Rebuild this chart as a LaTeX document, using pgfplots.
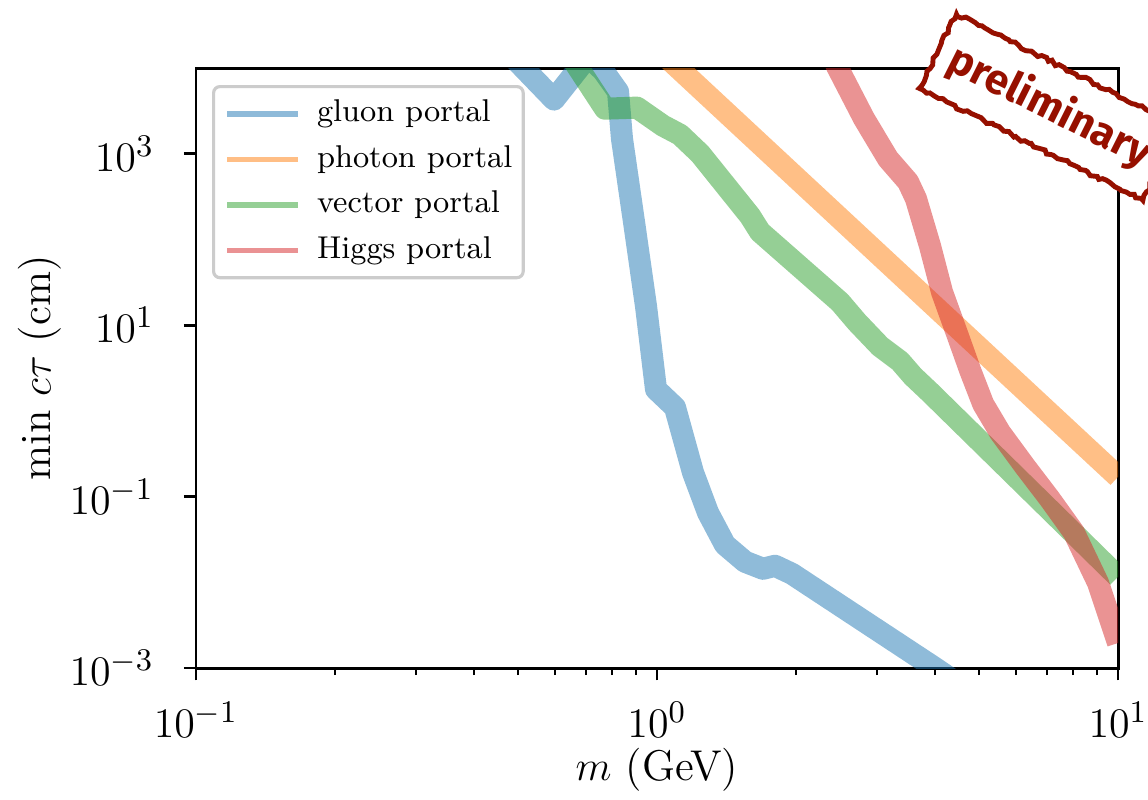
\documentclass[border=0pt]{standalone}
\usepackage{pgfplots}
\pgfplotsset{compat=1.18}
\usepackage{fontspec}
\newfontfamily\stampfont{Fira Sans}
\usetikzlibrary{decorations.pathmorphing}
\definecolor{tabblue}{RGB}{31,119,180}
\definecolor{taborange}{RGB}{255,127,14}
\definecolor{tabgreen}{RGB}{44,160,44}
\definecolor{tabred}{RGB}{214,39,40}
\definecolor{stampred}{RGB}{150,16,0}
\begin{document}
\begin{tikzpicture}
\useasboundingbox (-56pt,-37.43pt) rectangle (272pt,190.86pt);
\begin{scope}[overlay]
\begin{axis}[
  at={(0pt,0pt)}, anchor=south west,
  scale only axis, width=263.43pt, height=171.43pt,
  xmode=log, ymode=log,
  xmin=0.1, xmax=10, ymin=1e-3, ymax=1e4,
  xtick={0.1,1,10}, ytick={1e-3,1e-1,1e1,1e3},
  yminorticks=false,
  tick align=outside, xtick pos=left, ytick pos=left,
  major tick length=3.5pt, minor tick length=2pt,
  every tick/.style={black, line width=0.8pt},
  every minor tick/.style={black, line width=0.6pt},
  axis line style={line width=0.85pt},
  tick label style={font=\fontsize{12.3}{14}\selectfont},
  xticklabel style={yshift=-2.6pt},
  yticklabel style={xshift=-5pt},
  label style={font=\fontsize{12.3}{14}\selectfont},
  xlabel={$m$ (GeV)}, ylabel={min $c\tau$ (cm)},
  xlabel style={at={(axis description cs:0.5,-0.17)}, anchor=center},
  ylabel style={at={(axis description cs:-0.1692,0.5)}, anchor=center},
  legend image code/.code={\draw[#1, line width=1.6pt, line cap=butt] (0pt,0pt) -- (20.3pt,0pt); \path (22.5pt,0pt);},
  legend cell align=left,
  legend style={at={(0.0174,0.9717)}, anchor=north west, draw=black!20, line width=0.9pt,
    rounded corners=1.8pt, fill=white, fill opacity=0.8, text opacity=1,
    inner xsep=3.1pt, inner ysep=3.3pt, row sep=4pt,
    font=\fontsize{9.0}{11}\selectfont,
    nodes={inner sep=0pt, text height=6.8pt, text depth=2.2pt}},
  every axis plot/.append style={line width=6.3pt, opacity=0.5, line join=round},
]
\addplot[tabblue] coordinates {
(0.4453,22130) (0.5978,4285) (0.7086,13610) (0.7637,9354) (0.8231,5309)
(0.8395,1497) (0.8914,160.3) (0.9465,16.67) (0.995,1.784) (1.094,1.099)
(1.197,0.1909) (1.290,0.0650) (1.404,0.02748) (1.552,0.01738) (1.698,0.01439)
(1.803,0.01560) (1.963,0.01256) (4.009,0.001) (4.543,6.32e-4)};
\addlegendentry{gluon portal}
\addplot[taborange] coordinates {
(0.9,28800) (1.0,17000) (2.0,531) (5.0,5.44) (10,0.17)};
\addlegendentry{photon portal}
\addplot[tabgreen] coordinates {
(0.644,14790) (0.7714,3357) (0.905,3451) (1.030,2126) (1.122,1668) (1.240,1000)
(1.591,188.4) (1.673,122.5) (2.494,18.58) (2.716,10.84) (3.046,5.68) (3.366,3.79)
(3.592,2.532) (3.910,1.646) (10,0.01159)};
\addlegendentry{vector portal}
\addplot[tabred] coordinates {
(2.314,22130) (2.458,10410) (2.812,2566) (3.170,874) (3.504,470.4) (3.646,297.8)
(3.910,83.9) (4.152,24.3) (4.496,7.43) (4.78,2.95) (5.10,1.20) (5.546,0.5604)
(6.284,0.2244) (7.10,0.0950) (8.027,0.0379) (9.049,0.00986) (10,0.00196)};
\addlegendentry{Higgs portal}
\end{axis}
\pgfmathsetseed{7}
\node[rotate=-26.6, draw=stampred, line width=1.4pt, fill=white,
  minimum width=71.5pt, minimum height=23.7pt, inner sep=0pt,
  decorate, decoration={random steps, segment length=1.2pt, amplitude=0.5pt},
  text=stampred, font=\stampfont\bfseries\fontsize{12}{14}\selectfont]
  at (243.9pt,160.2pt) {preliminary};
\end{scope}
\end{tikzpicture}
\end{document}
